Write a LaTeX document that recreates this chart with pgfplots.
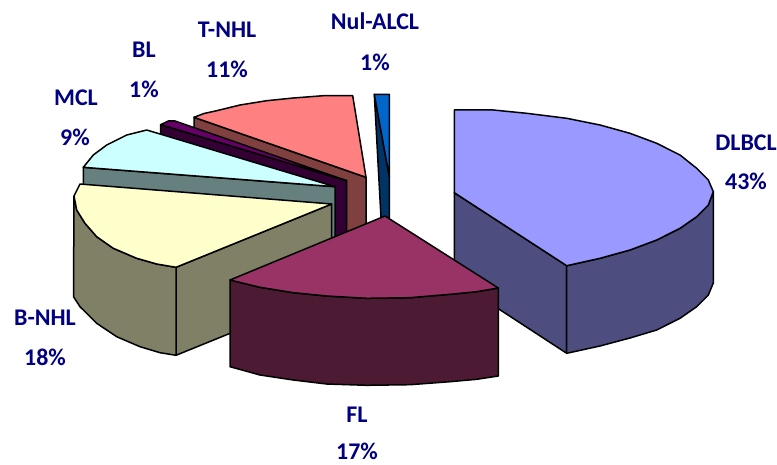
\documentclass[border=0pt]{standalone}
\usepackage{pgfplots}
\pgfplotsset{compat=1.18}
\usepackage{fontspec}
\setmainfont{Carlito}
\definecolor{dlTop}{HTML}{9999FF}\definecolor{dlSide}{HTML}{4D4D80}
\definecolor{flTop}{HTML}{993366}\definecolor{flSide}{HTML}{4D1A33}
\definecolor{bnTop}{HTML}{FFFFCC}\definecolor{bnSide}{HTML}{808066}
\definecolor{mcTop}{HTML}{CCFFFF}\definecolor{mcSide}{HTML}{668080}
\definecolor{blTop}{HTML}{660066}\definecolor{blSide}{HTML}{330033}
\definecolor{tnTop}{HTML}{FF8080}\definecolor{tnSide}{HTML}{804040}
\definecolor{nuTop}{HTML}{0066CC}\definecolor{nuSide}{HTML}{003366}
\definecolor{labelBlue}{HTML}{000080}
\tikzset{
  face/.style={draw=black, line width=1.5bp, line join=round},
  lab/.style={font=\fontsize{24}{26}\selectfont\bfseries, text=labelBlue, anchor=center, inner sep=0pt},
}
\begin{document}
\begin{tikzpicture}
\begin{axis}[
  scale only axis, width=777bp, height=465bp,
  xmin=0, xmax=777, ymin=0, ymax=465, y dir=reverse,
  hide axis, clip=false, no markers,
]
\path (axis cs:0,0) rectangle (axis cs:777,465);

% Nul-ALCL, 1%
\addplot[face, fill=nuSide] coordinates {(374.3,94.3)(381,218)(389.3,218)(389.3,176.7)} -- cycle;
\addplot[face, fill=nuTop] coordinates {(374.3,94.3)(389.3,94.3)(389.3,176.7)} -- cycle;

% T-NHL, 11%
\addplot[face, fill=tnSide] coordinates {(194,117.3)(366,177.3)(366,265)(194,205)} -- cycle;
\addplot[face, fill=tnTop] coordinates {(194,117.3)(204,113.5)(216.7,110.7)(240,105)(266.7,100.7)(293.3,98)(323.3,95.7)(352.7,95.7)(366,177.3)} -- cycle;

% BL, 1%
\addplot[face, fill=blSide] coordinates {(160.7,124.7)(346.7,180.7)(346.7,268)(160.7,212)} -- cycle;
\addplot[face, fill=blTop] coordinates {(160.7,124.7)(168.3,121)(175,121)(346.7,180.7)} -- cycle;

% MCL, 9%
\addplot[face, fill=mcSide] coordinates {(83.3,167.3)(335,186.7)(335,274)(83.3,255)} -- cycle;
\addplot[face, fill=mcTop] coordinates {(83.3,167.3)(93.3,155)(106.7,145)(126.7,135)(146.7,130)(335,186.7)} -- cycle;

% B-NHL, 18%
\addplot[face, fill=bnSide] coordinates {(176,267.3)(331.7,204)(331.7,292)(176,355.3)} -- cycle;
\addplot[face, fill=bnSide] coordinates {(74,196)(76.7,210)(85,223.3)(96.7,236.7)(113.3,248.3)(136.7,258.3)(156.7,264)(176,267.3)(176,355.3)(160,352.7)(140,346.7)(116.7,336.7)(96.7,323.3)(80,306.7)(73.5,296.7)} -- cycle;
\addplot[face, fill=bnTop] coordinates {(80,184)(74,196)(76.7,210)(85,223.3)(96.7,236.7)(113.3,248.3)(136.7,258.3)(156.7,264)(176,267.3)(331.7,204)} -- cycle;

% DLBCL, 43%
\addplot[face, fill=dlSide] coordinates {(454.3,192.7)(566.7,265.7)(566.7,353.3)(454.3,280)} -- cycle;
\addplot[face, fill=dlSide] coordinates {(566.7,265.7)(600,258.3)(630,250)(656.7,240)(680,228.3)(696.7,216.7)(708.3,205)(713.3,191.7)(713.3,283)(708.3,295)(696.7,306.7)(680,318.3)(656.7,330)(630,338)(600,346)(566.7,353.3)} -- cycle;
\addplot[face, fill=dlTop] coordinates {(454.3,110)(493.3,110)(526.7,113.3)(566.7,118.3)(600,125)(630,133.3)(656.7,143.3)(680,155)(696.7,168.3)(708.3,180)(713.3,191.7)(708.3,205)(696.7,216.7)(680,228.3)(656.7,240)(630,250)(600,258.3)(566.7,265.7)(454.3,192.7)} -- cycle;

% FL, 17%
\addplot[face, fill=flSide] coordinates {(230,280)(260,287.3)(293.3,292.7)(326.7,296)(366.7,298.3)(410,297.7)(450,294.3)(476.7,291.7)(498.3,288)(498.3,376)(476.7,379.3)(450,381.7)(410,384.7)(366.7,385.3)(326.7,384)(293.3,380)(260,375)(230,366.7)} -- cycle;
\addplot[face, fill=flTop] coordinates {(385,216)(230,280)(260,287.3)(293.3,292.7)(326.7,296)(366.7,298.3)(410,297.7)(450,294.3)(476.7,291.7)(498.3,288)} -- cycle;

% Category names and shares
\node[lab] at (axis cs:375,21) {Nul-ALCL};
\node[lab] at (axis cs:375,62) {1\%};
\node[lab] at (axis cs:227,30) {T-NHL};
\node[lab] at (axis cs:227,69) {11\%};
\node[lab] at (axis cs:144,50) {BL};
\node[lab] at (axis cs:144,89) {1\%};
\node[lab] at (axis cs:76,98) {MCL};
\node[lab] at (axis cs:75,137) {9\%};
\node[lab] at (axis cs:746,143) {DLBCL};
\node[lab] at (axis cs:746,181) {43\%};
\node[lab] at (axis cs:45,318) {B-NHL};
\node[lab] at (axis cs:45,357) {18\%};
\node[lab] at (axis cs:357,415) {FL};
\node[lab] at (axis cs:357,451) {17\%};
\end{axis}
\end{tikzpicture}
\end{document}
